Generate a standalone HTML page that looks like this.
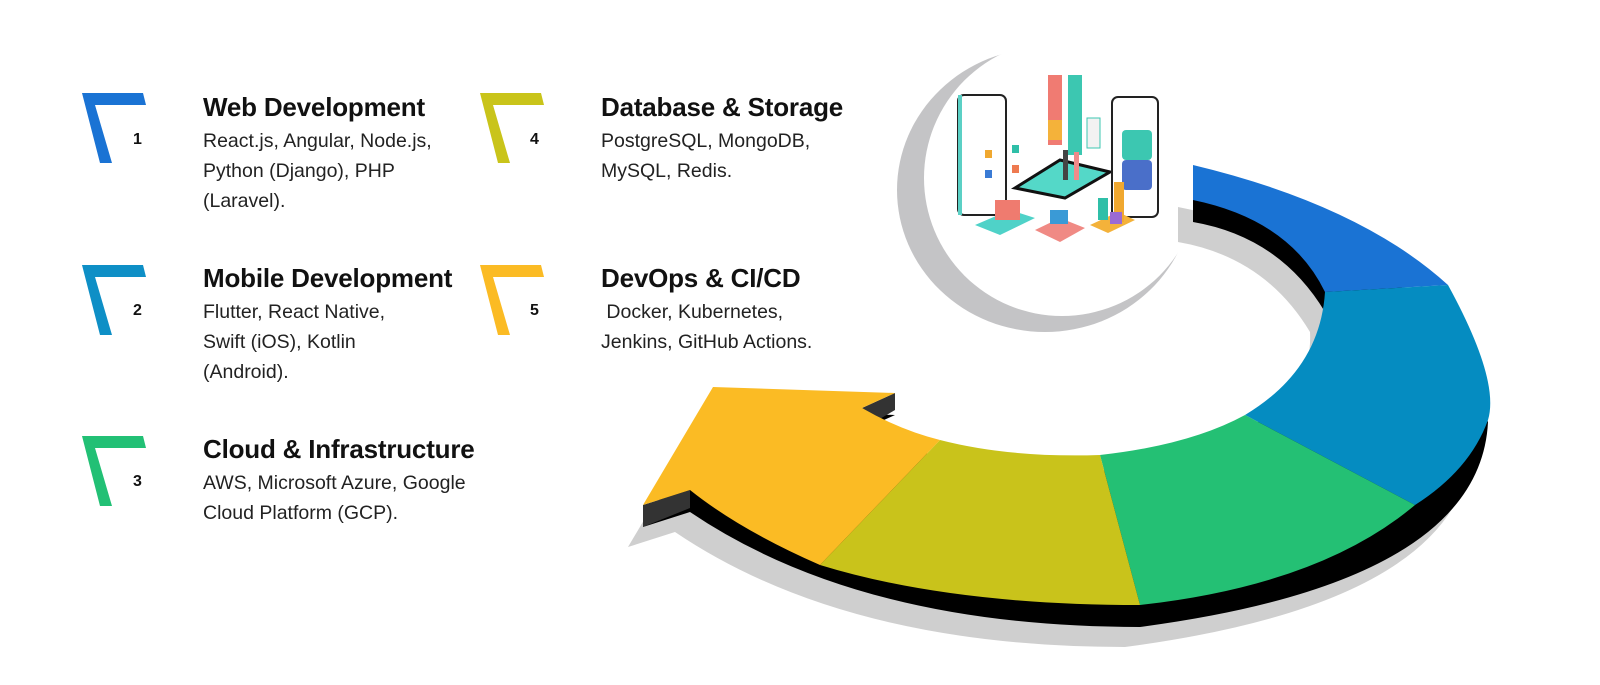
<!DOCTYPE html>
<html><head><meta charset="utf-8"><style>
body{margin:0;width:1600px;height:685px;background:#fff;overflow:hidden;position:relative;font-family:"Liberation Sans",sans-serif;color:#111}
.item{position:absolute}
.item h3{margin:0;font-size:26px;font-weight:bold;line-height:30px;color:#111;letter-spacing:-0.2px}
.item p{margin:4px 0 0;font-size:19.5px;line-height:30px;color:#222}
.num{position:absolute;font-size:16px;font-weight:bold}
</style></head><body>
<svg width="1600" height="685" style="position:absolute;left:0;top:0">
<g><polygon points="82,93 143,93 146,105 95,105 112,163 100,163" fill="#1a73d4"/></g>
<g transform="translate(0,172)"><polygon points="82,93 143,93 146,105 95,105 112,163 100,163" fill="#0e8fc6"/></g>
<g transform="translate(0,343)"><polygon points="82,93 143,93 146,105 95,105 112,163 100,163" fill="#22c075"/></g>
<g transform="translate(398,0)"><polygon points="82,93 143,93 146,105 95,105 112,163 100,163" fill="#c9c41a"/></g>
<g transform="translate(398,172)"><polygon points="82,93 143,93 146,105 95,105 112,163 100,163" fill="#fbbb24"/></g>

<ellipse cx="1045" cy="190" rx="148" ry="142" fill="#c4c4c6"/>
<ellipse cx="1062" cy="178" rx="138" ry="138" fill="#fff"/>

<g transform="translate(-15,42)">
<path d="M1193,165 Q1420,210 1488,400 Q1480,560 1140,605 Q860,605 690,490 L643,505 L713,387 L895,393 L862,408 Q1000,470 1180,440 Q1330,380 1325,290 Q1280,215 1193,200 Z" fill="#cfcfcf"/>
</g>
<g transform="translate(0,22)">
<path d="M1193,165 Q1420,210 1488,400 Q1480,560 1140,605 Q860,605 690,490 L643,505 L713,387 L895,393 L862,408 Q1000,470 1180,440 Q1330,380 1325,290 Q1280,215 1193,200 Z" fill="#000"/>
</g>
<polygon points="643,505 643,527 690,508 690,490" fill="#333"/>
<polygon points="895,393 895,410 878,420 862,408" fill="#333"/>
<path d="M1193,165 Q1360,205 1448,285 L1325,292 Q1290,220 1193,200 Z" fill="#1a73d4"/>
<path d="M1448,285 Q1500,380 1488,420 Q1470,470 1415,505 L1245,415 Q1320,370 1325,292 Z" fill="#058cc1"/>
<path d="M1415,505 Q1320,585 1140,605 L1100,455 Q1190,445 1245,415 Z" fill="#24c074"/>
<path d="M1140,605 Q950,605 820,565 L940,440 Q1010,458 1100,455 Z" fill="#c9c31b"/>
<path d="M820,565 Q740,530 690,490 L643,505 L713,387 L895,393 L862,408 Q900,430 940,440 Z" fill="#fbbb24"/>

<g>
<rect x="958" y="95" width="48" height="120" rx="6" fill="#fff" stroke="#222" stroke-width="2"/>
<rect x="958" y="95" width="4" height="120" fill="#5bd0c5"/>
<rect x="985" y="150" width="7" height="8" fill="#f0a830"/><rect x="985" y="170" width="7" height="8" fill="#3a7bd5"/><rect x="1012" y="145" width="7" height="8" fill="#2fbfa8"/><rect x="1012" y="165" width="7" height="8" fill="#ee7a50"/>
<rect x="1048" y="75" width="14" height="70" fill="#f07b72"/><rect x="1048" y="120" width="14" height="20" fill="#f4b23a"/>
<rect x="1068" y="75" width="14" height="80" fill="#3cc7b1"/>
<rect x="1087" y="118" width="13" height="30" fill="#f2f2f2" stroke="#3cc7b1"/>
<polygon points="1015,188 1060,160 1110,172 1065,198" fill="#54d8c8" stroke="#111" stroke-width="3"/>
<rect x="1063" y="150" width="5" height="30" fill="#444"/><rect x="1074" y="152" width="5" height="28" fill="#f08a8a"/>
<rect x="1112" y="97" width="46" height="120" rx="6" fill="#fff" stroke="#222" stroke-width="2"/>
<rect x="1122" y="130" width="30" height="30" rx="4" fill="#3cc7b1"/><rect x="1122" y="160" width="30" height="30" rx="4" fill="#4a6fc9"/>
<polygon points="975,225 1010,210 1035,218 1000,235" fill="#4fd2c8"/><rect x="995" y="200" width="25" height="20" fill="#ef7b6f"/>
<polygon points="1035,230 1060,218 1085,228 1060,242" fill="#f08a84"/><rect x="1050" y="210" width="18" height="14" fill="#3a9ad6"/>
<polygon points="1090,225 1118,212 1135,220 1108,233" fill="#f4b23a"/><rect x="1098" y="198" width="10" height="22" fill="#2fbfa8"/><rect x="1114" y="182" width="10" height="40" fill="#f0a830"/><rect x="1110" y="212" width="12" height="12" fill="#9b6ad3"/>
</g>
</svg>

<div class="num" style="left:133px;top:131px">1</div>
<div class="num" style="left:133px;top:302px">2</div>
<div class="num" style="left:133px;top:473px">3</div>
<div class="num" style="left:530px;top:131px">4</div>
<div class="num" style="left:530px;top:302px">5</div>

<div class="item" style="left:203px;top:92px"><h3>Web Development</h3><p>React.js, Angular, Node.js,<br>Python (Django), PHP<br>(Laravel).</p></div>
<div class="item" style="left:203px;top:263px"><h3>Mobile Development</h3><p>Flutter, React Native,<br>Swift (iOS), Kotlin<br>(Android).</p></div>
<div class="item" style="left:203px;top:434px"><h3>Cloud &amp; Infrastructure</h3><p>AWS, Microsoft Azure, Google<br>Cloud Platform (GCP).</p></div>
<div class="item" style="left:601px;top:92px"><h3>Database &amp; Storage</h3><p>PostgreSQL, MongoDB,<br>MySQL, Redis.</p></div>
<div class="item" style="left:601px;top:263px"><h3>DevOps &amp; CI/CD</h3><p>&nbsp;Docker, Kubernetes,<br>Jenkins, GitHub Actions.</p></div>
</body></html>
